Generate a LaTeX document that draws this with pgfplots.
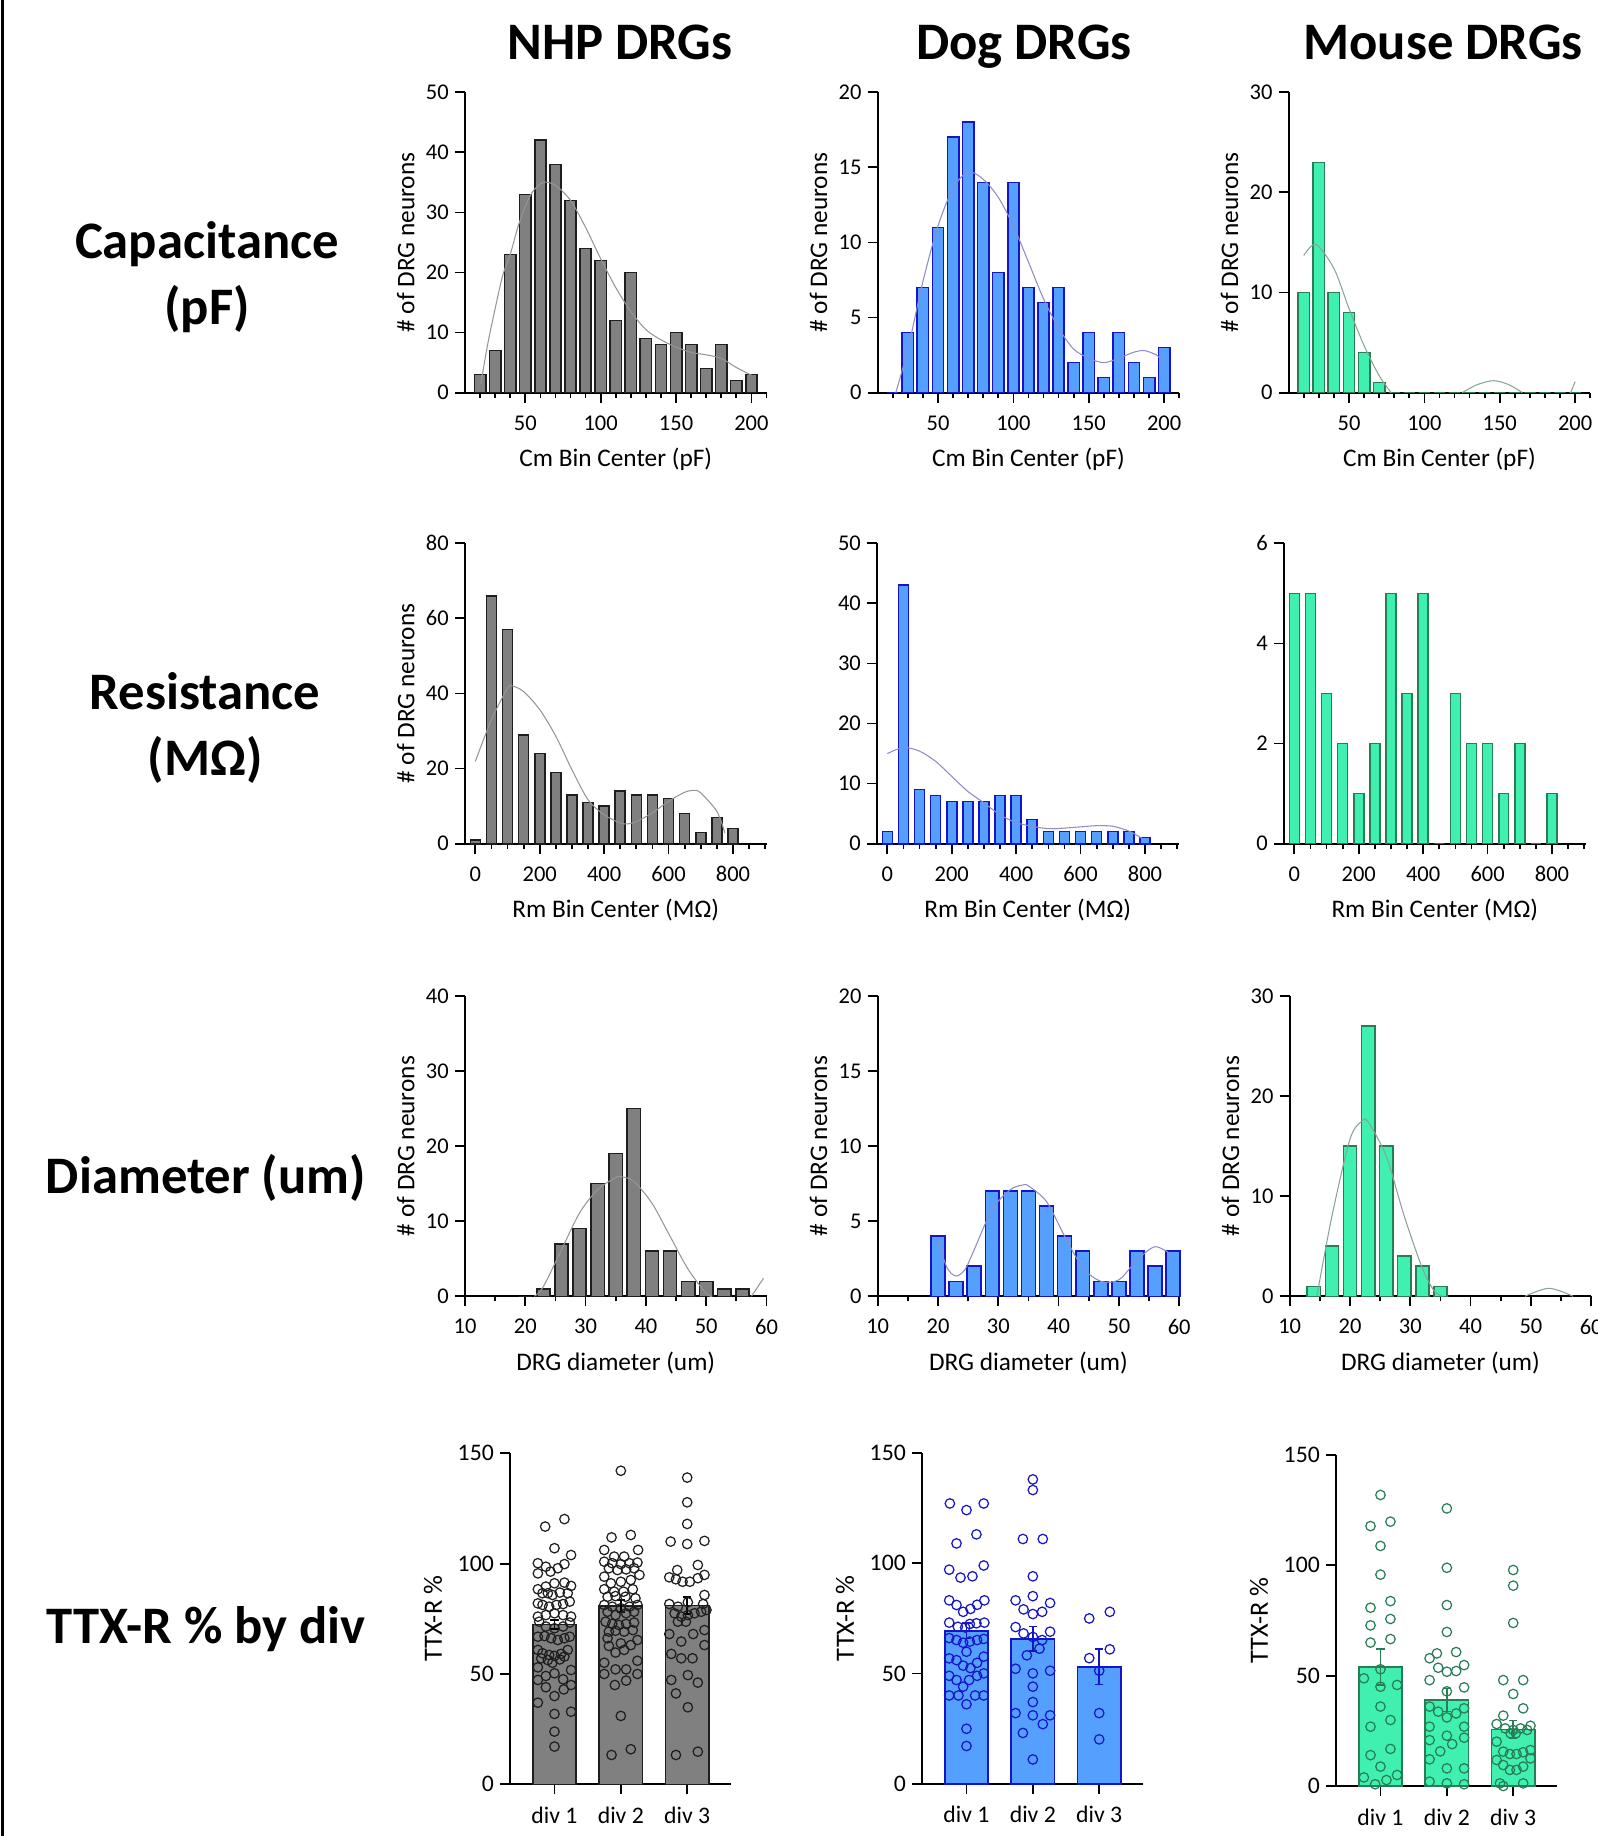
\documentclass[border=0pt]{standalone}
\usepackage{fontspec}
\setmainfont{Carlito}
\usepackage{pgfplots}
\pgfplotsset{compat=1.18}

\definecolor{nhpfill}{RGB}{128,128,128}
\definecolor{nhpedge}{RGB}{30,30,30}
\definecolor{nhpcurve}{RGB}{150,150,150}
\definecolor{dogfill}{RGB}{85,160,255}
\definecolor{dogedge}{RGB}{20,20,200}
\definecolor{dogcurve}{RGB}{140,140,200}
\definecolor{mousefill}{RGB}{64,240,176}
\definecolor{mouseedge}{RGB}{40,125,85}
\definecolor{mousecurve}{RGB}{135,165,150}

\pgfplotsset{
  base/.style={
    scale only axis, anchor=south west, clip=false,
    axis x line*=bottom, axis y line*=left,
    axis line style={line width=1.1pt,-},
    tick align=outside, major tick length=2mm, minor tick length=1mm,
    every tick/.style={line width=1pt,black},
    ymin=0, enlargelimits=false,
    xticklabel style={yshift=-1.3mm},
    /pgf/number format/assume math mode=true,
  },
  hist/.style={base,
    width=60.3mm, height=60.1mm,
    tick label style={font=\fontsize{12.8}{14}\selectfont},
    label style={font=\fontsize{14.4}{16}\selectfont},
    ylabel={\# of DRG neurons},
    ylabel style={at={(axis description cs:-0.196,0.5)},anchor=center},
    xlabel style={at={(axis description cs:0.5,-0.222)},anchor=center},
  },
  ttx/.style={base,
    width=44.2mm, height=66.2mm,
    xmin=0.33, xmax=3.66, ymax=150, ytick={0,50,100,150},
    xtick={1,2,3}, xticklabels={div 1,div 2,div 3},
    tick label style={font=\fontsize{13.5}{15}\selectfont},
    label style={font=\fontsize{15}{17}\selectfont},
    ylabel={TTX-R \%},
    ylabel style={at={(axis description cs:-0.348,0.5)},anchor=center},
  },
  nhpbar/.style={ybar, fill=nhpfill, draw=nhpedge, line width=0.9pt},
  dogbar/.style={ybar, fill=dogfill, draw=dogedge, line width=0.9pt},
  mousebar/.style={ybar, fill=mousefill, draw=mouseedge, line width=0.9pt},
  pts/.style={only marks, mark=o, mark size=2.7pt, mark options={line width=0.7pt, draw=#1}},
  errs/.style={error bars/.cd, y dir=both, y explicit,
    error bar style={line width=1pt, draw=#1},
    error mark options={rotate=90, mark size=2.3pt, line width=1pt, draw=#1}},
}

\begin{document}
\begin{tikzpicture}
\useasboundingbox (0,0) rectangle (319.6mm,-367.2mm);
\draw[line width=0.5mm] (0.5mm,0) -- (0.5mm,-367.2mm);

% column titles
\node[anchor=base, font=\fontsize{30}{36}\selectfont\bfseries] at (124mm,-11.9mm) {NHP DRGs};
\node[anchor=base, font=\fontsize{30}{36}\selectfont\bfseries] at (204.8mm,-11.9mm) {Dog DRGs};
\node[anchor=base, font=\fontsize{30}{36}\selectfont\bfseries] at (288.6mm,-11.9mm) {Mouse DRGs};

% row titles
\node[align=center, font=\fontsize{30}{37.6}\selectfont\bfseries] at (41.4mm,-55.4mm) {Capacitance\\(pF)};
\node[align=center, font=\fontsize{30}{37.6}\selectfont\bfseries] at (41mm,-145.6mm) {Resistance\\(MΩ)};
\node[font=\fontsize{30}{36}\selectfont\bfseries] at (41.2mm,-235.6mm) {Diameter (um)};
\node[font=\fontsize{30}{36}\selectfont\bfseries] at (41.2mm,-325.8mm) {TTX-R \% by div};

% ---------- row 1: capacitance ----------
\begin{axis}[hist, at={(93mm,-78.54mm)}, xmin=10, xmax=210,
  xtick={50,100,150,200}, minor xtick={20,30,...,210},
  ymax=50, ytick={0,10,...,50}, xlabel={Cm Bin Center (pF)}]
\addplot[nhpbar, bar width=7.5] coordinates {(20,3)(30,7)(40,23)(50,33)(60,42)(70,38)(80,32)(90,24)(100,22)(110,12)(120,20)(130,9)(140,8)(150,10)(160,8)(170,4)(180,8)(190,2)(200,3)};
\addplot[smooth, nhpcurve, line width=0.6pt] coordinates {(20.5,1.5)(25,8)(30,14)(35,19.5)(40,23)(45,27.5)(50,31)(55,33.5)(62,35)(70,34.5)(80,32)(90,27.5)(100,22.3)(110,17.5)(120,13.5)(130,10.5)(140,8.8)(150,7.6)(160,6.7)(170,6.3)(180,5.7)(190,4.2)(200,2.9)};
\end{axis}

\begin{axis}[hist, at={(175.54mm,-78.54mm)}, xmin=10, xmax=210,
  xtick={50,100,150,200}, minor xtick={20,30,...,210},
  ymax=20, ytick={0,5,...,20}, xlabel={Cm Bin Center (pF)}]
\addplot[dogbar, bar width=7.5] coordinates {(20,0)(30,4)(40,7)(50,11)(60,17)(70,18)(80,14)(90,8)(100,14)(110,7)(120,6)(130,7)(140,2)(150,4)(160,1)(170,4)(180,2)(190,1)(200,3)};
\addplot[smooth, dogcurve, line width=0.6pt] coordinates {(22,0)(30,2.9)(40,7.4)(50,11.1)(60,13.6)(70,14.7)(80,14.2)(90,13)(100,11.1)(110,8.7)(120,6.25)(130,4.3)(140,2.9)(150,2.3)(160,2.0)(170,2.3)(180,2.7)(187,2.8)(195,2.5)(200,2.0)};
\end{axis}

\begin{axis}[hist, at={(257.74mm,-78.54mm)}, xmin=10, xmax=210,
  xtick={50,100,150,200}, minor xtick={20,30,...,210},
  ymax=30, ytick={0,10,20,30}, xlabel={Cm Bin Center (pF)}]
\addplot[mousebar, bar width=7.5] coordinates {(20,10)(30,23)(40,10)(50,8)(60,4)(70,1)(80,0)(90,0)(100,0)(110,0)(120,0)(130,0)(140,0)(150,0)(160,0)(170,0)(180,0)(190,0)(200,0)};
\addplot[smooth, mousecurve, line width=0.6pt] coordinates {(20,13.7)(28,14.8)(40,12.4)(50,8.4)(60,4.7)(70,1.7)(78,0)};
\addplot[smooth, mousecurve, line width=0.6pt] coordinates {(125,0)(135,0.8)(146,1.2)(156,0.8)(165,0)};
\addplot[mousecurve, line width=0.6pt] coordinates {(197,0)(200,1.1)};
\end{axis}

% ---------- row 2: resistance ----------
\begin{axis}[hist, at={(93mm,-168.74mm)}, xmin=-32, xmax=904,
  xtick={0,200,400,600,800}, minor xtick={50,100,...,900},
  ymax=80, ytick={0,20,...,80}, xlabel={Rm Bin Center (MΩ)}]
\addplot[nhpbar, bar width=31] coordinates {(0,1)(50,66)(100,57)(150,29)(200,24)(250,19)(300,13)(350,11)(400,10)(450,14)(500,13)(550,13)(600,12)(650,8)(700,3)(750,7)(800,4)};
\addplot[smooth, nhpcurve, line width=0.6pt] coordinates {(0,21.9)(50,33)(100,41.4)(115,42)(150,40.5)(200,35.7)(250,28.6)(300,19.7)(350,11.7)(400,7.7)(450,5.5)(475,5.3)(500,5.9)(550,8.2)(600,11.3)(650,13.7)(680,14.2)(700,13.5)(750,8.6)(775,2.8)};
\end{axis}

\begin{axis}[hist, at={(175.4mm,-168.74mm)}, xmin=-32, xmax=904,
  xtick={0,200,400,600,800}, minor xtick={50,100,...,900},
  ymax=50, ytick={0,10,...,50}, ylabel={}, xlabel={Rm Bin Center (MΩ)}]
\addplot[dogbar, bar width=31] coordinates {(0,2)(50,43)(100,9)(150,8)(200,7)(250,7)(300,7)(350,8)(400,8)(450,4)(500,2)(550,2)(600,2)(650,2)(700,2)(750,2)(800,1)};
\addplot[smooth, dogcurve, line width=0.6pt] coordinates {(0,15)(50,16)(100,15.4)(150,13.7)(200,11.2)(250,8.7)(300,6.8)(350,4.8)(400,3.5)(450,2.9)(500,2.5)(550,2.6)(600,2.8)(650,3.0)(700,2.9)(750,2.1)(790,0.9)};
\end{axis}

\begin{axis}[hist, at={(256.8mm,-168.74mm)}, xmin=-32, xmax=904,
  xtick={0,200,400,600,800}, minor xtick={50,100,...,900},
  ymax=6, ytick={0,2,4,6}, ylabel={}, xlabel={Rm Bin Center (MΩ)}]
\addplot[mousebar, bar width=31] coordinates {(0,5)(50,5)(100,3)(150,2)(200,1)(250,2)(300,5)(350,3)(400,5)(450,0)(500,3)(550,2)(600,2)(650,1)(700,2)(750,0)(800,1)};
\end{axis}

% ---------- row 3: diameter ----------
\begin{axis}[hist, at={(93mm,-259.26mm)}, xmin=10, xmax=60,
  xtick={10,20,...,60}, minor xtick={15,25,...,55},
  ymax=40, ytick={0,10,...,40}, xlabel={DRG diameter (um)}]
\addplot[nhpbar, bar width=2.2] coordinates {(20,0)(23,1)(26,7)(29,9)(32,15)(35,19)(38,25)(41,6)(44,6)(47,2)(50,2)(53,1)(56,1)};
\addplot[smooth, nhpcurve, line width=0.6pt] coordinates {(21.5,0)(23,1.3)(26,6.2)(29,11.1)(32,14.2)(35,15.8)(36,15.9)(38,15.3)(41,12.4)(44,8)(47,3.6)(50,0.4)(51,0)};
\addplot[nhpcurve, line width=0.6pt] coordinates {(57.5,0)(59.5,2.4)};
\end{axis}

\begin{axis}[hist, at={(175.54mm,-259.26mm)}, xmin=10, xmax=60,
  xtick={10,20,...,60}, minor xtick={15,25,...,55},
  ymax=20, ytick={0,5,...,20}, xlabel={DRG diameter (um)}]
\addplot[dogbar, bar width=2.3] coordinates {(20,4)(23,1)(26,2)(29,7)(32,7)(35,7)(38,6)(41,4)(44,3)(47,1)(50,1)(53,3)(56,2)(59,3)};
\addplot[smooth, dogcurve, line width=0.6pt] coordinates {(20,3.7)(21.5,1.9)(23,1.35)(24.5,1.8)(26,3.1)(29,5.8)(32,7.1)(34,7.4)(35,7.35)(38,6.3)(41,4)(44,1.9)(47,1.0)(50,1.1)(53,2.4)(56,3.3)(59,2.7)};
\end{axis}

\begin{axis}[hist, at={(257.94mm,-259.26mm)}, xmin=10, xmax=60,
  xtick={10,20,...,60}, minor xtick={15,25,...,55},
  ymax=30, ytick={0,10,20,30}, xlabel={DRG diameter (um)}]
\addplot[mousebar, bar width=2.2] coordinates {(14,1)(17,5)(20,15)(23,27)(26,15)(29,4)(32,3)(35,1)};
\addplot[smooth, mousecurve, line width=0.6pt] coordinates {(14.5,0)(17,8)(20,15.7)(22,17.5)(23,17.4)(26,14)(29,8)(32,2.8)(34,0.5)(35.5,0)};
\addplot[smooth, mousecurve, line width=0.6pt] coordinates {(49,0)(51,0.5)(53,0.8)(55,0.5)(57,0)};
\end{axis}

% ---------- row 4: TTX-R % ----------
\begin{axis}[ttx, at={(102mm,-356.86mm)}]
\addplot[nhpbar, bar width=0.65, errs=black] coordinates {(1,72.5) +- (0,2) (2,80.8) +- (0,2.7) (3,81.1) +- (0,3.9)};
\addplot[pts=nhpedge] coordinates {(0.86,116.8)(1.15,120.2)(1,107)(0.75,100.2)(1.25,103.9)(0.87,98.6)(1.05,97.9)(0.75,95.6)(0.94,96.4)(1.15,99.8)(0.75,88.4)(0.87,89.6)(1,91.1)(1.15,91.4)(1.25,89.9)(0.82,86.6)(0.9,86.6)(0.97,85.8)(1.08,86.9)(1.2,86.6)(0.75,82)(0.82,81.3)(0.92,80.5)(1.03,81.3)(1.13,81.7)(1.23,82.8)(0.75,76)(0.87,76.7)(1,77.5)(1.13,76.7)(1.25,76)(0.77,73.7)(0.87,71.5)(1,70.7)(1.13,71.5)(1.23,73.3)(0.75,66.9)(0.85,67.2)(0.95,66.2)(1.05,65.4)(1.15,66.2)(1.23,66.9)(0.75,60.9)(0.82,59.4)(0.92,58.6)(1,58.2)(1.1,59.1)(1.2,60.9)(0.8,57.1)(0.9,56.3)(1.08,56.6)(1.15,57.9)(0.75,53)(0.97,55.1)(1.25,51.8)(0.75,47.3)(0.87,49.1)(1,50.3)(1.13,47.6)(0.87,44)(1.25,45)(1,40)(1.14,43)(0.75,37)(1,31.9)(1.25,32.9)(1,23.9)(1,17.1)};
\addplot[pts=nhpedge] coordinates {(2,142.1)(1.86,111.9)(2.15,113)(1.75,106.2)(1.9,103.2)(2.05,103.2)(2.26,106.2)(1.75,100.9)(1.87,100.2)(2,99.8)(2.13,100.2)(2.25,100.5)(1.82,97.9)(1.95,97.1)(2.08,97.4)(2.2,97.9)(1.75,94.1)(2.28,94.9)(1.85,91.1)(2,91.8)(2.15,92.6)(1.75,88.4)(1.9,87.3)(2.04,87.3)(2.18,88.4)(1.8,85)(1.92,85.3)(2.07,85)(2.22,84.3)(1.75,81.3)(1.87,80.5)(2,79.8)(2.13,80.5)(2.25,81.3)(1.8,78.2)(1.92,76.7)(2.08,77.5)(2.2,78.2)(1.77,73.7)(1.87,72.7)(1.97,72.2)(2.08,72.7)(2.2,73.3)(1.82,69.2)(1.92,69.6)(2.05,69.2)(2.18,69.9)(1.8,66.2)(2.25,65.4)(1.82,62.7)(2,63.9)(2.15,63.1)(1.92,59.7)(2.05,60.9)(1.75,55.1)(2.25,56)(1.92,52.1)(2.08,52.1)(1.75,50)(2.25,50)(1.91,45)(2.08,47)(2,31)(1.86,13.3)(2.15,15.9)};
\addplot[pts=nhpedge] coordinates {(3,139)(3,127.8)(3,118)(2.75,110)(3,108.9)(3.26,110.3)(2.85,97.1)(3.16,99.4)(2.73,93.8)(2.83,92.9)(2.93,91.8)(3.04,91.8)(3.16,93.4)(3.26,94.9)(3.26,85.8)(3.01,82.5)(2.73,81.7)(2.86,80.5)(3.24,81.7)(2.81,77.5)(2.91,76)(3.01,76.7)(3.11,77.5)(3.21,78.2)(3.29,79)(2.86,73.7)(2.98,73.7)(2.73,68.1)(3.09,68.1)(3.26,69.9)(2.91,64.7)(3.26,63.1)(2.76,59.1)(2.91,57.1)(3.08,57.1)(2.76,47.3)(2.83,41.2)(3.01,49.5)(3.16,46.1)(3.01,34.9)(2.83,13.3)(3.16,14.8)};
\end{axis}

\begin{axis}[ttx, at={(184.4mm,-356.74mm)}]
\addplot[dogbar, bar width=0.65, errs=dogedge] coordinates {(1,69.3) +- (0,3.5) (2,65.7) +- (0,5.6) (3,53) +- (0,8)};
\addplot[pts=dogedge] coordinates {(0.75,127)(1,124)(1.26,127)(1.15,113)(0.85,108.9)(0.74,97)(1.26,98.9)(0.91,93.4)(1.09,94)(0.74,83.1)(0.85,81)(1.27,83.1)(0.95,77.9)(1.06,79.2)(1.16,81.1)(0.74,73)(0.87,71.1)(0.98,70.8)(1.05,72.4)(1.15,72.7)(1.27,73)(0.74,66)(0.85,65.1)(0.95,63.9)(1.05,64.4)(1.16,65.1)(1.26,65.6)(1,59.8)(0.74,56.8)(0.85,56)(0.95,53.5)(1.06,52.4)(1.16,54.8)(1.26,57.6)(0.74,48.9)(0.85,47)(0.95,44)(1.04,47)(1.16,48.9)(1.26,50)(0.74,40)(0.88,40)(1.13,40)(1.26,40)(1,36)(1,24.9)(1,17.1)};
\addplot[pts=dogedge] coordinates {(2,137.9)(2,133.1)(1.85,110.9)(2.15,110.9)(2,94)(2,85)(1.74,83.1)(2.26,81.9)(1.86,79)(2.14,77.9)(2,76.9)(1.74,71)(1.86,68.1)(2,66.5)(2.14,65.1)(2.26,68.9)(2.1,61.2)(1.91,58.2)(1.74,52.1)(2.26,51.2)(2,50)(2,44)(2,37)(1.74,32)(2,31)(2.26,31)(2.15,27)(1.85,23)(2,11)};
\addplot[pts=dogedge] coordinates {(2.85,74.9)(3.16,77.9)(2.85,56.9)(3.16,60.9)(3,51.2)(3,32)(3,20.1)};
\end{axis}

\begin{axis}[ttx, at={(267.2mm,-357.2mm)}]
\addplot[mousebar, bar width=0.65, errs=mouseedge] coordinates {(1,53.9) +- (0,8.2) (2,39) +- (0,5.2) (3,25.7) +- (0,4)};
\addplot[pts=mouseedge] coordinates {(1,131.9)(0.85,117.8)(1.15,119.8)(1,108.8)(1,95.8)(0.85,80.8)(1.15,83.8)(0.85,72.8)(1.15,75.7)(0.85,65)(1.15,66.6)(1,52.9)(0.75,48.8)(1.25,45.8)(1,45)(1,36)(0.85,26.9)(1.15,29.9)(0.85,14)(1.15,16.8)(1,8.8)(0.75,3.9)(1.09,2.7)(1.25,5)(0.92,0.8)};
\addplot[pts=mouseedge] coordinates {(2,125.8)(2,98.9)(2,82)(2,69.8)(1.85,60.1)(2.14,60.7)(1.74,57.9)(1.87,53.6)(2,51.8)(2.14,52.1)(2.26,54.8)(1.74,48)(2.26,44.7)(2,42.9)(1.74,36)(1.87,33.7)(2.14,32.9)(2,31.1)(2.26,35.2)(1.74,26.9)(2.26,26.9)(2,22.8)(1.74,20.8)(2.26,21.9)(2.08,19)(1.9,15.7)(1.74,12.1)(2,8)(2.26,8)(1.74,2)(2,1.2)(2.26,0.8)};
\addplot[pts=mouseedge] coordinates {(3,97.9)(3,90.8)(3,73.9)(2.85,48)(3.15,48)(3,41.7)(3.15,35.2)(2.85,31.9)(2.75,28.1)(3.26,27.3)(2.88,26.1)(3,25.4)(3.11,26.1)(3.21,25.4)(2.96,23.9)(3.04,23.9)(2.75,20.1)(2.85,15.6)(2.95,14.5)(3.05,14.5)(3.15,15.3)(3.26,16.3)(2.75,11.8)(2.85,9.5)(2.95,7.3)(3.05,7.3)(3.15,8.8)(3.26,12.5)(2.8,1.2)(2.85,0)(3.15,1.2)};
\end{axis}
\end{tikzpicture}
\end{document}
